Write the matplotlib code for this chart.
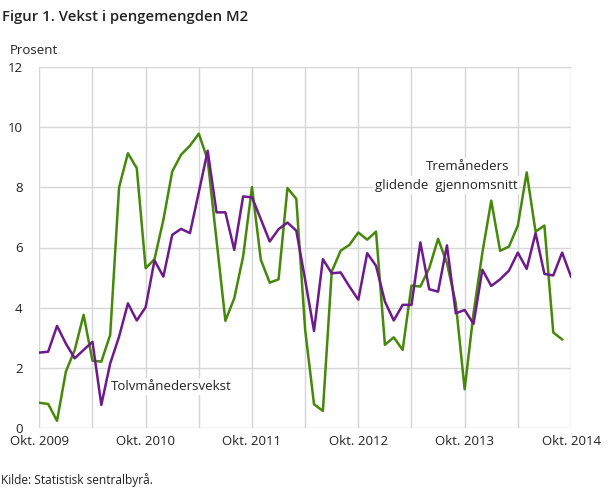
import matplotlib
matplotlib.use("Agg")
import matplotlib.pyplot as plt
import numpy as np

plt.rcParams['font.family'] = ['Open Sans', 'DejaVu Sans']

# months from Okt. 2009 to Okt. 2014
tick_labels = ["Okt. 2009", "Okt. 2010", "Okt. 2011", "Okt. 2012", "Okt. 2013", "Okt. 2014"]

# purple series (tolvmånedersvekst)
purple = [2.50, 2.53, 3.39, 2.80, 2.31, 2.59, 2.86, 0.76, 2.14, 3.03,
          4.14, 3.57, 4.01, 5.57, 5.03, 6.42, 6.62, 6.48, 7.84, 9.22,
          7.17, 7.17, 5.92, 7.70, 7.67, 6.94, 6.20, 6.61, 6.83, 6.56,
          4.92, 3.22, 5.61, 5.14, 5.17, 4.70, 4.26, 5.81, 5.39, 4.20,
          3.57, 4.09, 4.09, 6.17, 4.61, 4.53, 6.07, 3.81, 3.92, 3.46,
          5.26, 4.72, 4.94, 5.23, 5.83, 5.29, 6.48, 5.12, 5.07, 5.83,
          5.03]

# green series (tremåneders glidende gjennomsnitt)
green = [0.83, 0.79, 0.23, 1.87, 2.59, 3.76, 2.23, 2.20, 3.09, 8.00,
         9.14, 8.64, 5.31, 5.61, 6.92, 8.53, 9.09, 9.39, 9.79, 8.92,
         6.24, 3.56, 4.31, 5.70, 8.01, 5.59, 4.83, 4.94, 7.98, 7.62,
         3.26, 0.78, 0.56, 5.20, 5.89, 6.09, 6.50, 6.26, 6.53, 2.76,
         3.01, 2.59, 4.73, 4.70, 5.31, 6.29, 5.48, 4.14, 1.28, 3.81,
         5.83, 7.56, 5.89, 6.03, 6.73, 8.50, 6.53, 6.73, 3.17, 2.94]

fig = plt.figure(figsize=(6.09, 4.88), dpi=100)
ax = fig.add_axes([39.3 / 609, 60.3 / 488, 531.7 / 609, 360.4 / 488])

ax.plot(np.arange(len(green)), green, color='#46880a', lw=1.8, zorder=3)
ax.plot(np.arange(len(purple)), purple, color='#6d1a8c', lw=1.8, zorder=4)

ax.set_xlim(0, 60)
ax.set_ylim(0, 12)
ax.set_xticks(np.arange(0, 61, 12))
ax.set_xticklabels(tick_labels)
ax.set_xticks(np.arange(6, 60, 12), minor=True)
ax.set_yticks(np.arange(0, 13, 2))
ax.grid(True, which='both', color='#d6d6d6', lw=1, zorder=0)
for s in ax.spines.values():
    s.set_visible(False)
ax.tick_params(which='both', length=0, labelsize=9.5, colors='#222222')
ax.tick_params(axis='x', pad=5)
ax.tick_params(axis='y', pad=12)

bb = dict(facecolor='white', edgecolor='none', pad=1.5)
ax.text(48.3, 8.69, "Tremåneders", ha='center', va='center', fontsize=9.5,
        color='#222222', bbox=bb, zorder=5)
ax.text(45.9, 8.08, "glidende  gjennomsnitt", ha='center', va='center', fontsize=9.5,
        color='#222222', bbox=bb, zorder=5)
ax.text(14.85, 1.36, "Tolvmånedersvekst", ha='center', va='center', fontsize=9.5,
        color='#222222', bbox=bb, zorder=5)

fig.text(2 / 609, 1 - 17 / 488, "Figur 1. Vekst i pengemengden M2", fontsize=10.7,
         fontweight='semibold', ha='left', va='center', color='#222222')
fig.text(10 / 609, 1 - 50 / 488, "Prosent", fontsize=9.5, ha='left', va='center',
         color='#222222')
fig.text(1 / 609, 1 - 480 / 488, "Kilde: Statistisk sentralbyrå.", fontsize=8.6,
         ha='left', va='center', color='#222222')

fig.savefig("out.png", dpi=100)
